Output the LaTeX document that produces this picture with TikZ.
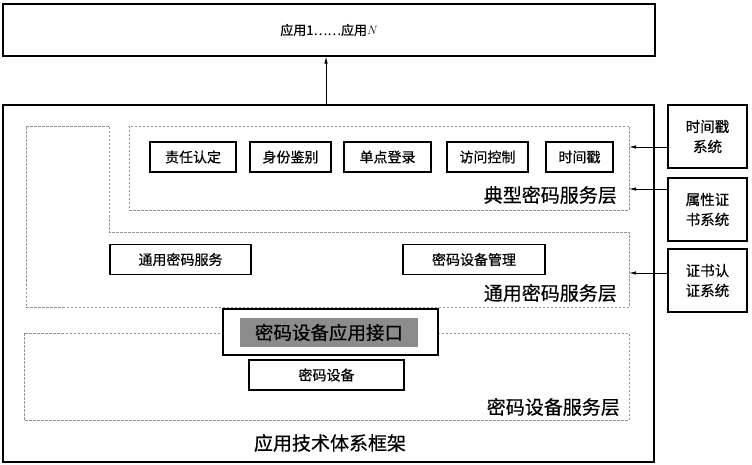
\documentclass[tikz,border=0pt]{standalone}
\usepackage{fontspec}
\newfontfamily\cjk[FakeBold=0.5]{Noto Sans CJK SC}
\usetikzlibrary{arrows.meta}
\definecolor{apigray}{RGB}{140,140,140}
\begin{document}
\begin{tikzpicture}[x=1pt, y=-1pt,
        box/.style={draw, line width=1.1pt, inner sep=0pt, minimum height=30pt, font=\cjk\fontsize{14}{16}\selectfont},
        layer/.style={draw=gray!85, dash pattern=on 2.5pt off 1.5pt, line width=0.6pt},
        title/.style={anchor=east, inner sep=0pt, font=\cjk\fontsize{19}{21}\selectfont},
        sysbox/.style={box, minimum width=79pt, minimum height=63pt, align=center, font=\cjk\fontsize{14.5}{20}\selectfont},
        feed/.style={-{Latex[length=7pt,width=3.5pt]}, line width=0.8pt}]
        % 1. Canvas
        \useasboundingbox[fill=white] (0,0) rectangle (752,465);

        % 2. Applications on top and the frame below
        \node[box, minimum width=652pt, minimum height=52pt, font=\cjk\fontsize{13}{15}\selectfont] (app) at (329,30) {应用1……应用$N$};
        \node[draw, line width=1.2pt, inner sep=0pt, minimum width=651pt, minimum height=357pt] (frame) at (328.5,283.5) {};
        \node[title, anchor=center] (frametitle) at (330,443) {应用技术体系框架};
        \draw[feed] (frame.north -| 326,0) -- (app.south -| 326,0);

        % 3. Dashed layers
        \draw[layer] (129,126) rectangle (629,210);
        \draw[layer] (26,126) -- (109,126) -- (109,232) -- (629,232) -- (629,307) -- (26,307) -- cycle;
        \draw[layer] (24,333) rectangle (629,420);

        % 4. Typical crypto services
        \node[box, minimum width=86pt] (zrrd) at (193,157) {责任认定};
        \node[box, minimum width=81pt] (sfjb) at (290.5,157) {身份鉴别};
        \node[box, minimum width=87pt] (dddl) at (387.5,157) {单点登录};
        \node[box, minimum width=81pt] (fwkz) at (487.5,157) {访问控制};
        \node[box, minimum width=67pt] (sjc) at (579.5,157) {时间戳};
        \node[title] (typtitle) at (617,195) {典型密码服务层};

        % 5. General crypto services
        \node[box, minimum width=141pt] (tymm) at (180.5,259.5) {通用密码服务};
        \node[box, minimum width=142pt] (sbgl) at (474,259.5) {密码设备管理};
        \node[title] (gentitle) at (617,293) {通用密码服务层};

        % 6. Device layer with the interface
        \node[draw, fill=white, line width=2.2pt, inner sep=0pt, minimum width=215pt, minimum height=46pt] (api) at (330.5,332) {};
        \node[fill=apigray, inner sep=0pt, minimum width=178pt, minimum height=29pt, font=\cjk\fontsize{18.5}{20}\selectfont] (apitext) at (329,332.5) {密码设备应用接口};
        \node[box, minimum width=155pt] (dev) at (326.5,375) {密码设备};
        \node[title] (devtitle) at (620,407) {密码设备服务层};

        % 7. Outside systems
        \node[sysbox] (tss) at (707.5,136.5) {时间戳\\系统};
        \node[sysbox] (acs) at (707.5,209.5) {属性证\\书系统};
        \node[sysbox] (cas) at (707.5,280.5) {证书认\\证系统};
        \coordinate (in1) at (629,147);
        \coordinate (in2) at (629,189);
        \coordinate (in3) at (629,273);
        \draw[feed] (tss.west |- in1) -- (in1);
        \draw[feed] (acs.west |- in2) -- (in2);
        \draw[feed] (cas.west |- in3) -- (in3);
    \end{tikzpicture}
\end{document}
